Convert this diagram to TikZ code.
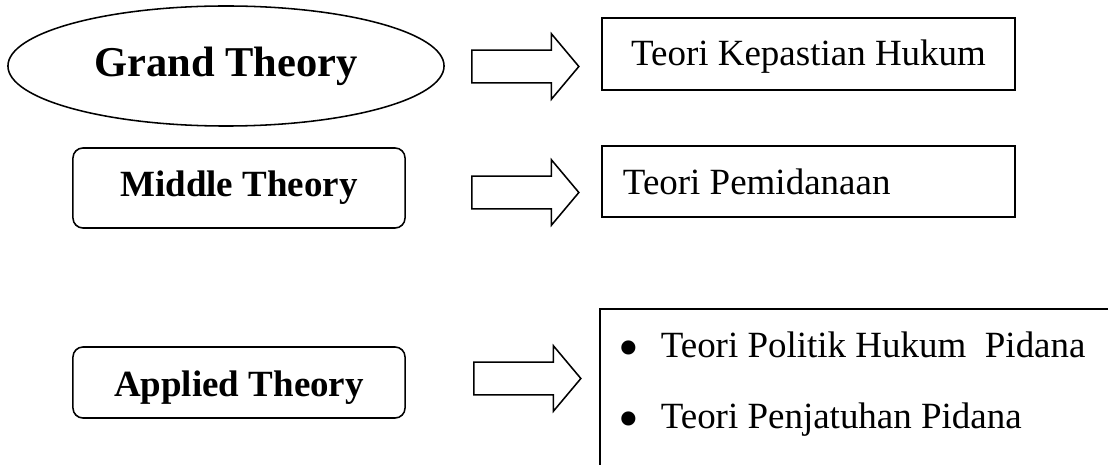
\documentclass[tikz,border=0pt]{standalone}
\usepackage{fontspec}
\setmainfont{Liberation Serif}
\usetikzlibrary{shapes.geometric,shapes.arrows,positioning}

\begin{document}
\begin{tikzpicture}[x=0.025cm,y=-0.025cm,line width=1.1pt,
	theory/.style={draw,rounded corners=0.25cm,minimum width=8.3cm,inner sep=0pt,font=\fontsize{26.3}{30}\bfseries},
	teori/.style={draw,minimum width=10.325cm,inner sep=0pt,font=\fontsize{26.3}{30}\selectfont},
	panah/.style={draw,single arrow,single arrow tip angle=100,single arrow head extend=0.41cm,minimum height=2.675cm,inner xsep=0pt,inner ysep=0.3875cm},
	butir/.style={anchor=base west,inner sep=0pt,font=\fontsize{26.3}{30}\selectfont},
	titik/.style={anchor=base,inner sep=0pt,font=\fontsize{42}{42}\selectfont}]
		\useasboundingbox (0,0) rectangle (1108,465);
		% left column
		\node[draw,ellipse,minimum width=10.9cm,minimum height=3cm,inner sep=0pt,font=\fontsize{30.2}{34}\bfseries] (grand) at (226,66) {Grand Theory};
		\node[theory,minimum height=2cm] (middle) at (239,188) {Middle Theory};
		\node[theory,minimum height=1.775cm,text height=26pt,text depth=6pt] (applied) at (239,382.5) {Applied Theory};
		% arrows
		\node[panah] (arrGrand) at (518.5,66.5) {};
		\node[panah] (arrMiddle) at (518.5,192.5) {};
		\node[panah] (arrApplied) at (520.5,378.5) {};
		% right column
		\node[teori,minimum height=1.8cm,text height=20pt,text depth=3pt] (kepastian) at (808.5,54) {Teori Kepastian Hukum};
		\node[teori,minimum height=1.775cm,inner xsep=0.525cm] (pemidanaan) at (808.5,181.5) {\makebox[9.275cm][l]{Teori Pemidanaan}};
		\draw (600,465) -- (600,309) -- (1108,309);
		\node[titik] (dotPolitik) at (629,367) {\textbullet};
		\node[butir] (politik) at (660,357) {Teori Politik Hukum\ \ Pidana};
		\node[titik] (dotJatuh) at (629,438) {\textbullet};
		\node[butir] (penjatuhan) at (660,428) {Teori Penjatuhan Pidana};
	\end{tikzpicture}
\end{document}
